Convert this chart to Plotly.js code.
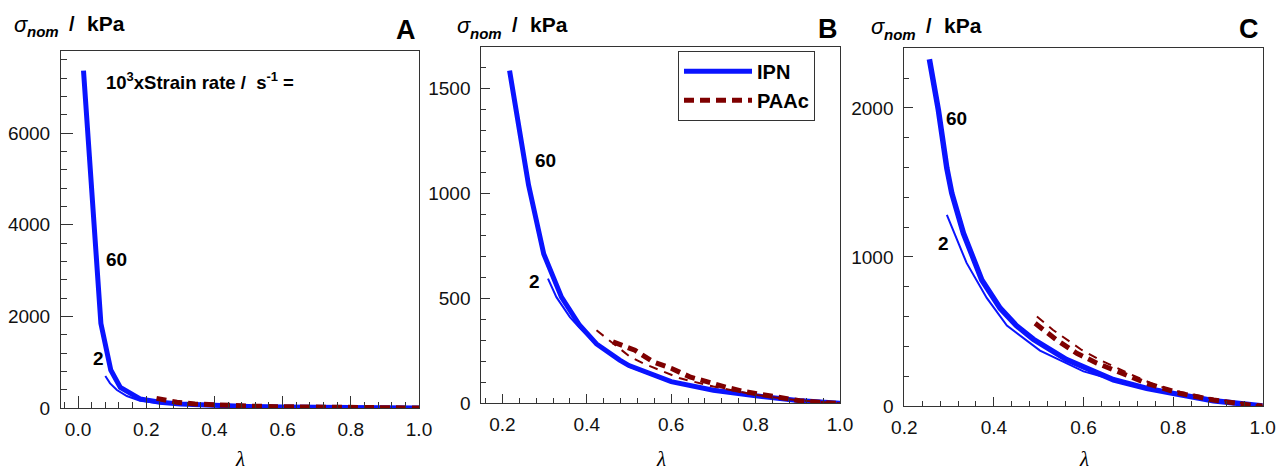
<!DOCTYPE html>
<html><head><meta charset="utf-8">
<script src="https://cdn.plot.ly/plotly-3.0.1.min.js"></script>
<style>html,body{margin:0;padding:0;background:#fff}#chart{width:1276px;height:473px}</style>
</head><body><div id="chart"></div>
<script>
// ---------------- DATA ----------------
// Panel A
const A_ipn60_x = [0.016, 0.039, 0.053, 0.067, 0.096, 0.124, 0.182, 0.24, 0.3, 0.4, 0.5, 0.6, 0.7, 0.8, 0.9, 1.0];
const A_ipn60_y = [7364, 4895, 3442, 1845, 828, 451, 200, 125, 85, 50, 32, 20, 13, 7, 3, 0];
const A_ipn2_x  = [0.080, 0.094, 0.114, 0.143, 0.182, 0.24, 0.3, 0.4, 0.5, 0.6, 0.8, 1.0];
const A_ipn2_y  = [697, 538, 392, 261, 160, 105, 75, 45, 30, 19, 7, 0];
const A_paac60_x = [0.23, 0.29, 0.343, 0.396, 0.5, 0.6, 0.7, 0.8, 0.9, 1.0];
const A_paac60_y = [211, 124, 87, 65, 42, 28, 18, 10, 4, 0];
// Panel B
const B_ipn60_x = [0.217, 0.249, 0.262, 0.298, 0.34, 0.383, 0.423, 0.478, 0.5, 0.6, 0.7, 0.8, 0.9, 1.0];
const B_ipn60_y = [1586, 1203, 1040, 712, 506, 372, 283, 206, 180, 103, 62, 36, 13, 0];
const B_ipn2_x  = [0.308, 0.328, 0.36, 0.383, 0.423, 0.5, 0.6, 0.7, 0.8, 0.9, 1.0];
const B_ipn2_y  = [594, 506, 411, 360, 280, 175, 100, 60, 34, 12, 0];
const B_paac60_x = [0.462, 0.514, 0.557, 0.601, 0.644, 0.688, 0.731, 0.775, 0.818, 0.858, 0.905, 0.99];
const B_paac60_y = [293, 253, 198, 166, 126, 98, 76, 55, 39, 27, 12, 0];
const B_paac2_x = [0.423, 0.503, 0.534, 0.573, 0.621, 0.7, 0.8, 0.9, 1.0];
const B_paac2_y = [348, 221, 190, 158, 119, 80, 40, 14, 0];
// Panel C
const C_ipn60_x = [0.256, 0.276, 0.295, 0.306, 0.332, 0.373, 0.414, 0.45, 0.488, 0.562, 0.667, 0.741, 0.8, 0.89, 1.0];
const C_ipn60_y = [2327, 1987, 1595, 1428, 1159, 846, 656, 540, 448, 312, 176, 118, 85, 35, 0];
const C_ipn2_x  = [0.295, 0.339, 0.384, 0.429, 0.503, 0.6, 0.7, 0.8, 0.9, 1.0];
const C_ipn2_y  = [1282, 960, 725, 540, 372, 232, 148, 80, 30, 0];
const C_paac60_x = [0.492, 0.54, 0.585, 0.63, 0.667, 0.741, 0.815, 0.89, 0.97, 1.0];
const C_paac60_y = [555, 443, 354, 287, 242, 152, 85, 40, 7, 0];
const C_paac2_x = [0.496, 0.532, 0.596, 0.637, 0.7, 0.76, 0.8, 0.9, 1.0];
const C_paac2_y = [600, 510, 376, 309, 220, 141, 105, 42, 0];

const xTicks = [0.0, 0.2, 0.4, 0.6, 0.8, 1.0];
const xTickText = ['0.0', '0.2', '0.4', '0.6', '0.8', '1.0'];
const rateLabels = ['60', '2'];
const seriesNames = ['IPN', 'PAAc'];

// ---------------- STYLE ----------------
const W = 1276, H = 473;
const BLUE = '#0a14ff', RED = '#7f0000';
const FONT = 'Liberation Sans, Arial, sans-serif';

function blue(x, y, w, ax, show) {
  return {x, y, type: 'scatter', mode: 'lines', xaxis: 'x' + ax, yaxis: 'y' + ax,
    line: {color: BLUE, width: w}, name: '<b>' + seriesNames[0] + '</b>', showlegend: !!show, hoverinfo: 'skip'};
}
function red(x, y, w, dash, ax, show) {
  return {x, y, type: 'scatter', mode: 'lines', xaxis: 'x' + ax, yaxis: 'y' + ax,
    line: {color: RED, width: w, dash: dash}, name: '<b>' + seriesNames[1] + '</b>', showlegend: !!show, hoverinfo: 'skip'};
}

const traces = [
  blue(A_ipn60_x, A_ipn60_y, 5, '', false),
  blue(A_ipn2_x, A_ipn2_y, 2, '', false),
  red(A_paac60_x, A_paac60_y, 5, '10px,6px', '', false),
  blue(B_ipn60_x, B_ipn60_y, 5, '2', true),
  blue(B_ipn2_x, B_ipn2_y, 2, '2', false),
  red(B_paac60_x, B_paac60_y, 5, '10px,6px', '2', true),
  red(B_paac2_x, B_paac2_y, 2, '9px,7px', '2', false),
  blue(C_ipn60_x, C_ipn60_y, 5.5, '3', false),
  blue(C_ipn2_x, C_ipn2_y, 2, '3', false),
  red(C_paac60_x, C_paac60_y, 5, '10px,6px', '3', false),
  red(C_paac2_x, C_paac2_y, 2, '9px,7px', '3', false)
];

// panel pixel boxes [left, right, top, bottom]
const boxes = [[61, 419, 50.7, 408], [481.3, 840, 46.7, 403.3], [904.3, 1262.7, 48.3, 406]];
const xr = [[-0.05, 1.0], [0.15, 1.0], [0.2, 1.0]];
const yr = [[0, 7800], [0, 1700], [0, 2400]];
const ydt = [2000, 500, 1000];
const ymn = [400, 100, 200];
const tl = [[12, 6], [9, 5], [9, 5]];

const layout = {
  width: W, height: H, margin: {l: 0, r: 0, t: 0, b: 0},
  paper_bgcolor: '#fff', plot_bgcolor: '#fff', showlegend: true,
  legend: {x: 678 / W, y: 1 - 50.7 / H, xanchor: 'left', yanchor: 'top', bgcolor: '#fff',
    bordercolor: '#333', borderwidth: 1, font: {family: FONT, size: 20, color: '#000'},
    itemwidth: 68, tracegroupgap: 0},
  annotations: []
};

boxes.forEach((b, i) => {
  const s = i === 0 ? '' : String(i + 1);
  const common = {showline: true, mirror: true, linecolor: '#333', linewidth: 1, showgrid: false, zeroline: false,
    ticks: 'inside', tickcolor: '#333', tickwidth: 1, ticklen: tl[i][0],
    tickfont: {family: FONT, size: 19, color: '#111'}, fixedrange: true};
  layout['xaxis' + s] = Object.assign({}, common, {
    domain: [b[0] / W, b[1] / W], range: xr[i], anchor: 'y' + s,
    tickvals: xTicks, ticktext: xTickText, ticklabelstandoff: 4,
    minor: {dtick: 0.04, tick0: 0, ticks: 'inside', ticklen: tl[i][1], tickcolor: '#333', tickwidth: 1}
  });
  layout['yaxis' + s] = Object.assign({}, common, {
    domain: [1 - b[3] / H, 1 - b[2] / H], range: yr[i], anchor: 'x' + s,
    dtick: ydt[i], tick0: 0, ticklabelstandoff: 6,
    minor: {dtick: ymn[i], tick0: 0, ticks: 'inside', ticklen: tl[i][1], tickcolor: '#333', tickwidth: 1}
  });
});

function ann(text, px, py, size, opts) {
  return Object.assign({text, xref: 'paper', yref: 'paper', x: px / W, y: 1 - py / H,
    xanchor: 'center', yanchor: 'middle', showarrow: false,
    font: {family: FONT, size: size, color: '#000'}}, opts || {});
}

// y titles (sigma_nom / kPa)
const tOff = [[0, 0], [443.4, 1], [856.7, 2.5]];
tOff.forEach(o => {
  layout.annotations.push(ann('<i>σ</i>', 12 + o[0], 24 + o[1], 22, {xanchor: 'left'}));
  layout.annotations.push(ann('<b><i>nom</i></b>', 25 + o[0], 32 + o[1], 15, {xanchor: 'left'}));
  layout.annotations.push(ann('<b>/</b>', 72 + o[0], 23.5 + o[1], 20));
  layout.annotations.push(ann('<b>kPa</b>', 85 + o[0], 23.5 + o[1], 21, {xanchor: 'left'}));
});
// panel letters
layout.annotations.push(ann('<b>A</b>', 405.8, 30.5, 27));
layout.annotations.push(ann('<b>B</b>', 827.7, 29, 27));
layout.annotations.push(ann('<b>C</b>', 1249.3, 29.2, 27));
// lambda axis titles
[240, 660.6, 1083.5].forEach(cx => {
  layout.annotations.push(ann('<i>λ</i>', cx, 459, 21, {font: {family: 'Liberation Serif, Times New Roman, serif', size: 21, color: '#000'}}));
});
// strain-rate note and labels
layout.annotations.push(ann('<b>10<sup>3</sup>xStrain rate /&nbsp; s<sup>-1</sup> =</b>', 104, 81, 18.5, {xanchor: 'left'}));
const lblPos = [[116, 259, 98, 358], [545, 160.7, 534.3, 281], [956.7, 118.3, 943.3, 243.3]];
lblPos.forEach(p => {
  layout.annotations.push(ann('<b>' + rateLabels[0] + '</b>', p[0], p[1], 19));
  layout.annotations.push(ann('<b>' + rateLabels[1] + '</b>', p[2], p[3], 19));
});

Plotly.newPlot('chart', traces, layout, {displayModeBar: false, staticPlot: true});
</script></body></html>
